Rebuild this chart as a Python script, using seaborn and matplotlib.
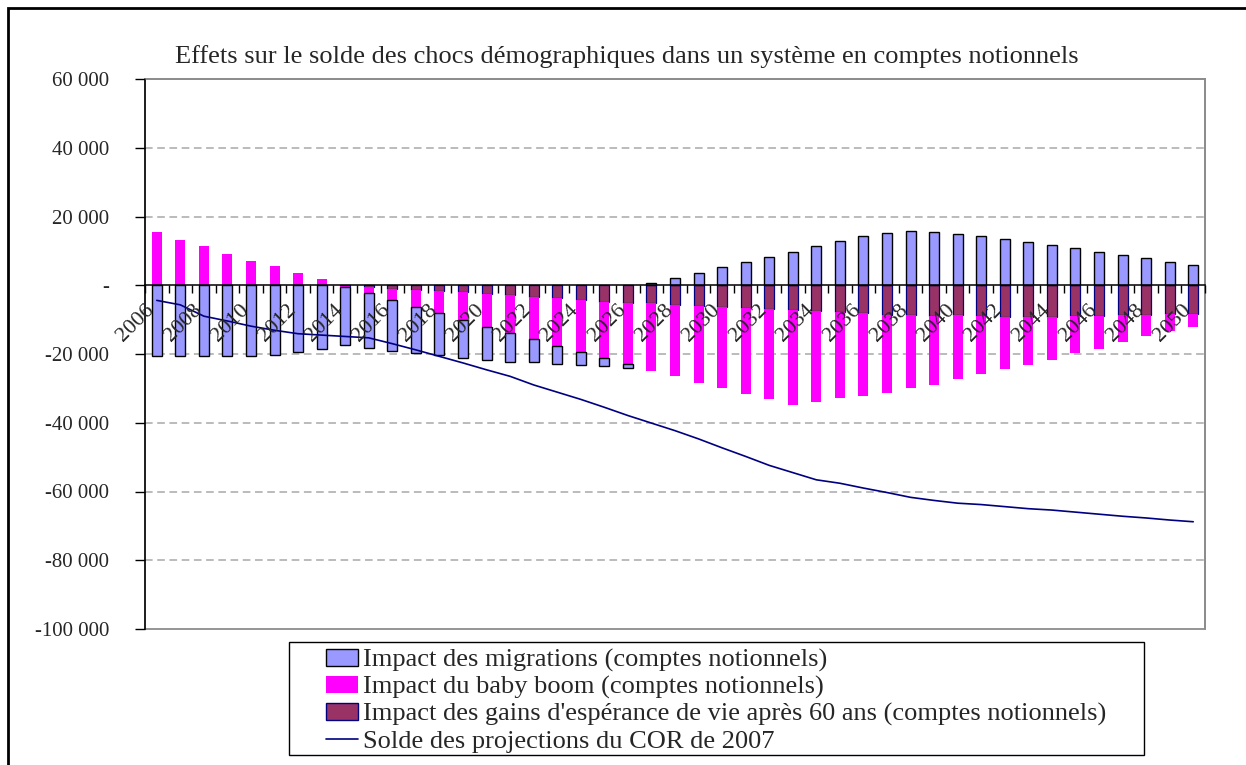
import numpy as np
import pandas as pd
import matplotlib
matplotlib.use("Agg")
import matplotlib.pyplot as plt
import matplotlib.transforms as mtransforms
from matplotlib.patches import Patch, Rectangle
from matplotlib.lines import Line2D
import seaborn as sns

# ---------------- data ----------------
years = list(range(2006, 2051))

migrations = [-20500, -20500, -20500, -20700, -20500, -20200, -19300, -18400, -17000, -16000,
              -14800, -13400, -12200, -11000, -9500, -8200, -6700, -5200, -3800, -2400,
              -1100, 700, 2100, 3700, 5200, 6800, 8300, 9800, 11400, 12900,
              14300, 15200, 15700, 15400, 15000, 14200, 13500, 12500, 11700, 10700,
              9700, 8700, 7800, 6900, 5900]

baby_boom = [15400, 13300, 11300, 9200, 7200, 5500, 3700, 1700, -300, -1700,
             -3100, -4900, -6500, -8000, -9700, -11100, -12400, -14000, -15100, -16400,
             -17800, -19600, -20700, -22200, -23600, -24800, -26300, -27500, -26500, -25000,
             -23900, -22600, -21300, -20000, -18700, -16900, -15300, -14100, -12600, -10800,
             -9400, -7900, -6300, -4900, -3600]

esperance = [0, 0, 0, 0, 0, 0, 0, 0, -200, -500,
             -1100, -1500, -1700, -2100, -2400, -2900, -3300, -3700, -4300, -4800,
             -5100, -5300, -5800, -6100, -6400, -6700, -6900, -7200, -7600, -7900,
             -8200, -8600, -8700, -8900, -8700, -9000, -9200, -9200, -9100, -9000,
             -9000, -8700, -8600, -8500, -8400]

solde_cor = [-4400, -5700, -9000, -10400, -11900, -13100, -14100, -14500, -14900, -15300,
             -17000, -18800, -20700, -22600, -24600, -26500, -29000, -31100, -33200, -35500,
             -37900, -40100, -42300, -44700, -47300, -49800, -52400, -54500, -56600, -57600,
             -59000, -60300, -61700, -62600, -63400, -63800, -64400, -65000, -65400, -66000,
             -66600, -67200, -67700, -68300, -68800]

series_labels = ["Impact des migrations (comptes notionnels)",
                 "Impact du baby boom (comptes notionnels)",
                 "Impact des gains d'espérance de vie après 60 ans (comptes notionnels)",
                 "Solde des projections du COR de 2007"]

title = "Effets sur le solde des chocs démographiques dans un système en comptes notionnels"

ytick_values = [-100000, -80000, -60000, -40000, -20000, 0, 20000, 40000, 60000]
ytick_labels = ["-100 000", "-80 000", "-60 000", "-40 000", "-20 000", "-",
                "20 000", "40 000", "60 000"]

# ---------------- style ----------------
sns.set_style("white")
SERIF = ["Liberation Serif", "DejaVu Serif"]
plt.rcParams["font.family"] = SERIF

C_MIG = "#9999FF"
C_BB = "#FF00FF"
C_ESP = "#993366"
C_LINE = "#000080"

W, H = 1246, 765
fig = plt.figure(figsize=(W / 100, H / 100), dpi=100)
fig.patch.set_facecolor("white")

ax = fig.add_axes([145 / W, (H - 629) / H, (1205 - 145) / W, (629 - 79) / H])
ax.set_facecolor("white")

df = pd.DataFrame({
    "idx": np.arange(len(years)),
    "year": years,
    "mig": migrations,
    "bb": baby_boom,
    "esp": esperance,
    "solde": solde_cor,
})

# dashed gridlines behind bars
for yv in ytick_values:
    if yv not in (0, ytick_values[0], ytick_values[-1]):
        ax.axhline(yv, linestyle=(0, (5, 3)), color="#A8A8A8", linewidth=1.1, zorder=0.8)

# stacked bars (positives and negatives stacked separately)
pos_base = np.zeros(len(df))
neg_base = np.zeros(len(df))
bw = 0.42
for col, fc, ec, lw in [("esp", C_ESP, C_LINE, 0.9),
                        ("bb", C_BB, "none", 0),
                        ("mig", C_MIG, "black", 1.0)]:
    vals = df[col].to_numpy(dtype=float)
    base = np.where(vals >= 0, pos_base, neg_base)
    ax.bar(df["idx"], vals, bottom=base, width=bw, color=fc, edgecolor=ec,
           linewidth=lw, zorder=2)
    pos_base = pos_base + np.where(vals > 0, vals, 0)
    neg_base = neg_base + np.where(vals < 0, vals, 0)

sns.lineplot(data=df, x="idx", y="solde", ax=ax, color=C_LINE, linewidth=1.2,
             zorder=2.2, legend=False)

ax.set_axisbelow(False)
ax.set_xlim(-0.5, len(years) - 0.5)
ax.set_ylim(-100000, 60000)
ax.set_xlabel("")
ax.set_ylabel("")

ax.set_yticks(ytick_values)
ax.set_yticklabels(ytick_labels, fontsize=15)
ax.tick_params(axis="y", direction="out", length=7, width=1, color="black",
               pad=19, left=True)
ax.grid(False)

for s in ["top", "right"]:
    ax.spines[s].set_color("#8C8C8C")
    ax.spines[s].set_linewidth(1.3)
ax.spines["left"].set_color("black")
ax.spines["left"].set_linewidth(1.1)
ax.spines["bottom"].set_position(("data", 0))
ax.spines["bottom"].set_color("black")
ax.spines["bottom"].set_linewidth(1.1)
ax.spines["bottom"].set_zorder(5)
ax.add_patch(Rectangle((0, 0), 1, 1, transform=ax.transAxes, fill=False,
                       edgecolor="#8C8C8C", linewidth=1.3, zorder=1, clip_on=False))

ax.set_xticks(np.arange(-0.5, len(years) + 0.5, 1.0))
ax.set_xticklabels([])
ax.tick_params(axis="x", which="major", direction="out", length=6, width=1,
               color="black", bottom=True)
label_idx = df["idx"][df["year"] % 2 == 0].to_numpy()
ax.set_xticks(label_idx, minor=True)
ax.set_xticklabels([str(y) for y in df["year"][df["year"] % 2 == 0]], minor=True,
                   fontsize=16, rotation=45, ha="right", va="center",
                   rotation_mode="anchor")
ax.tick_params(axis="x", which="minor", length=0, pad=16, bottom=True)
offset = mtransforms.ScaledTranslation(-5 / 100, 0, fig.dpi_scale_trans)
for lab in ax.get_xticklabels(minor=True):
    lab.set_transform(lab.get_transform() + offset)

fig.text(627 / W, 1 - 57 / H, title, ha="center", va="center", fontsize=19,
         family=SERIF)

handles = [Patch(facecolor=C_MIG, edgecolor="black", linewidth=1.0),
           Patch(facecolor=C_BB, edgecolor="none"),
           Patch(facecolor=C_ESP, edgecolor=C_LINE, linewidth=1.0),
           Line2D([0], [0], color=C_LINE, linewidth=1.2)]
leg = fig.legend(handles, series_labels, loc="upper left",
                 bbox_to_anchor=(326 / W, 1 - 649 / H), bbox_transform=fig.transFigure,
                 frameon=False, borderpad=0, borderaxespad=0,
                 handlelength=1.2, handleheight=0.6, handletextpad=0.2,
                 labelspacing=0.15, prop={"family": SERIF, "size": 19})
fig.add_artist(Rectangle((289 / W, 1 - 755 / H), (1144 - 289) / W, (755 - 642) / H,
                         transform=fig.transFigure, fill=False, edgecolor="black",
                         linewidth=1.0))

fig.add_artist(Rectangle((8 / W, -0.05), 1.2, (1 - 8 / H) + 0.05,
                         transform=fig.transFigure, fill=False, edgecolor="black",
                         linewidth=2.0))

fig.savefig("out.png", dpi=100)
